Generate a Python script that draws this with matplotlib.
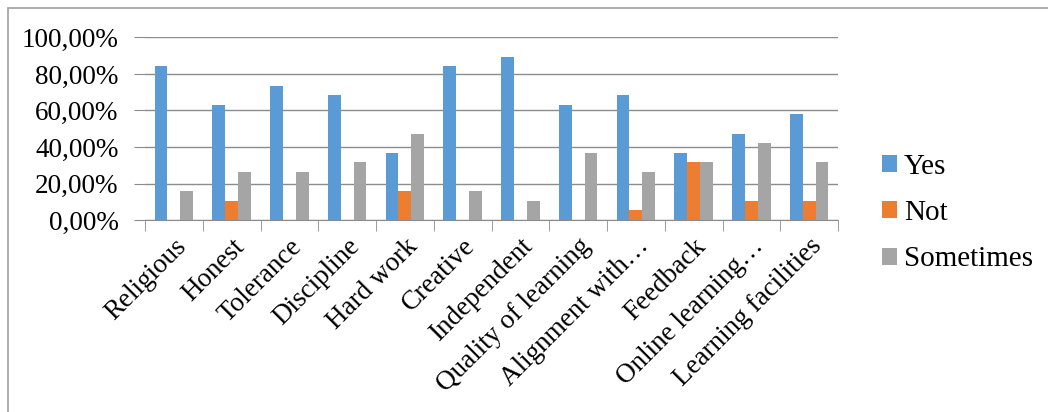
import matplotlib.pyplot as plt
import numpy as np
from matplotlib.patches import Rectangle
from matplotlib.ticker import FuncFormatter

plt.rcParams['font.family'] = ['Liberation Serif', 'DejaVu Serif']

categories = ['Religious', 'Honest', 'Tolerance', 'Discipline', 'Hard work', 'Creative',
              'Independent', 'Quality of learning', 'Alignment with\u2026', 'Feedback',
              'Online learning\u2026', 'Learning facilities']
yes = [84.21, 63.16, 73.68, 68.42, 36.84, 84.21, 89.47, 63.16, 68.42, 36.84, 47.37, 57.89]
not_ = [0, 10.53, 0, 0, 15.79, 0, 0, 0, 5.26, 31.58, 10.53, 10.53]
sometimes = [15.79, 26.32, 26.32, 31.58, 47.37, 15.79, 10.53, 36.84, 26.32, 31.58, 42.11, 31.58]

fig = plt.figure(figsize=(10.48, 4.12), dpi=100)
ax = fig.add_axes([145 / 1048, 0.466, 693 / 1048, 0.443])

x = np.arange(len(categories))
w = 0.222
ax.bar(x - w, yes, w, color='#5B9BD5', label='Yes')
ax.bar(x, not_, w, color='#ED7D31', label='Not')
ax.bar(x + w, sometimes, w, color='#A5A5A5', label='Sometimes')

ax.set_xlim(-0.5, len(categories) - 0.5)
ax.set_ylim(0, 100)
ax.set_yticks(np.arange(0, 101, 20))
ax.yaxis.set_major_formatter(FuncFormatter(lambda v, p: ('%.2f%%' % v).replace('.', ',')))
ax.yaxis.grid(True, color='#8c8c8c', linewidth=1)
ax.set_axisbelow(True)
for s in ['top', 'right', 'left']:
    ax.spines[s].set_visible(False)
ax.spines['bottom'].set_color('#8c8c8c')
ax.tick_params(axis='y', length=8, color='#8c8c8c', labelsize=19.5, pad=11)

ax.set_xticks(x)
ax.set_xticklabels(categories, rotation=45, ha='right', rotation_mode='anchor', fontsize=19.5)
ax.tick_params(axis='x', length=0, pad=10)
ax.set_xticks(np.arange(-0.5, len(categories)), minor=True)
ax.tick_params(axis='x', which='minor', length=8, color='#8c8c8c')

leg = ax.legend(loc='center left', bbox_to_anchor=(1.025, 0.038), frameon=False, fontsize=21,
                handlelength=0.52, handleheight=0.52, handletextpad=0.24, labelspacing=0.7)

fig.patches.append(Rectangle((8 / 1048, -0.1), 1.2, 1.1 - 8 / 412, transform=fig.transFigure,
                             fill=False, edgecolor='#a0a0a0', linewidth=1.2))

fig.savefig('out.png', dpi=100)
